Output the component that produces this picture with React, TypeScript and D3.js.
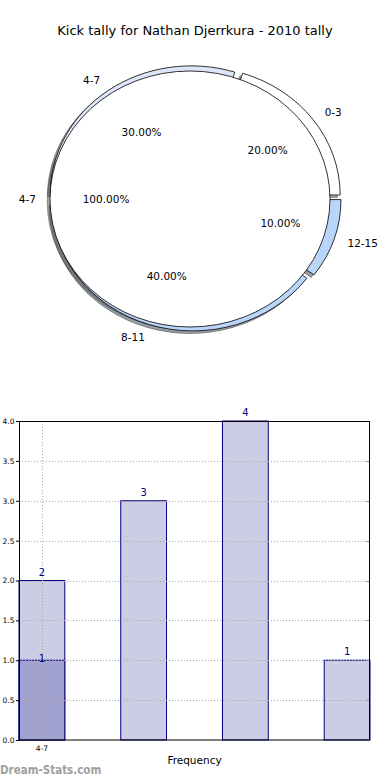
import { useEffect, useRef } from "react";
import * as d3 from "d3";

const TITLE = "Kick tally for Nathan Djerrkura - 2010 tally";

// outer ring: games per kick range
const ringLabels = ["0-3", "4-7", "8-11", "12-15"];
const ringValues = [2, 3, 4, 1];
const ringColors = ["#ffffff", "#dce6f8", "#bad5fa", "#bad5fa"];

// inner pie
const coreLabels = ["4-7"];
const coreValues = [1];
const coreColors = ["#ffffff"];

// frequency bars
const barValues = [2, 3, 4, 1];
const overlayValues = [1];
const xTickLabels = ["4-7"];
const yTicks = [0, 0.5, 1, 1.5, 2, 2.5, 3, 3.5, 4];

const FONT = "DejaVu Sans, Verdana, sans-serif";

type PieOpts = { cx: number; cy: number; rx: number; ry: number; explode: number };

const shadowOf = (c: string) => {
    const k = d3.rgb(c);
    return `rgba(${Math.round(k.r * 0.3)},${Math.round(k.g * 0.3)},${Math.round(k.b * 0.3)},0.5)`;
};

const App = () => {
    const svgRef = useRef<SVGSVGElement>(null);

    useEffect(() => {
        const svg = d3.select(svgRef.current);
        svg.selectAll("*").remove();

        svg.append("rect").attr("width", 390).attr("height", 780).attr("fill", "#fff");

        svg.append("text")
            .attr("x", 195).attr("y", 30)
            .attr("text-anchor", "middle").attr("dominant-baseline", "central")
            .attr("font-family", FONT).attr("font-size", 13)
            .text(TITLE);

        // ---------- pies ----------
        const pie = d3.pie<number>().sort(null)
            .startAngle(Math.PI / 2)
            .endAngle(Math.PI / 2 - 2 * Math.PI);
        const arc = d3.arc<d3.PieArcDatum<number>>().innerRadius(0).outerRadius(1);

        const outer: PieOpts = { cx: 194.6, cy: 198, rx: 141, ry: 128, explode: 0.04 };
        const inner: PieOpts = { cx: 190, cy: 199, rx: 140, ry: 128, explode: 0 };

        const ringArcs = pie(ringValues);
        const coreArcs = pie(coreValues);

        const offset = (d: d3.PieArcDatum<number>, o: PieOpts) => {
            const mid = (d.startAngle + d.endAngle) / 2;
            return [o.explode * Math.sin(mid) * o.rx, -o.explode * Math.cos(mid) * o.ry];
        };

        // shadows sit under every wedge
        const drawShadows = (arcs: d3.PieArcDatum<number>[], colors: string[], o: PieOpts) => {
            arcs.forEach((d, i) => {
                const [dx, dy] = offset(d, o);
                svg.append("path")
                    .attr("d", arc(d))
                    .attr("transform", `translate(${o.cx + dx - 0.02 * o.rx},${o.cy + dy + 0.02 * o.ry}) scale(${o.rx},${o.ry})`)
                    .attr("fill", shadowOf(colors[i]))
                    .attr("stroke", shadowOf(colors[i]))
                    .attr("stroke-width", 1)
                    .attr("vector-effect", "non-scaling-stroke");
            });
        };

        const drawWedges = (arcs: d3.PieArcDatum<number>[], colors: string[], o: PieOpts) => {
            arcs.forEach((d, i) => {
                const [dx, dy] = offset(d, o);
                svg.append("path")
                    .attr("d", arc(d))
                    .attr("transform", `translate(${o.cx + dx},${o.cy + dy}) scale(${o.rx},${o.ry})`)
                    .attr("fill", colors[i])
                    .attr("stroke", "#000")
                    .attr("stroke-width", 0.8)
                    .attr("vector-effect", "non-scaling-stroke");
            });
        };

        const drawLabels = (arcs: d3.PieArcDatum<number>[], labels: string[], o: PieOpts) => {
            const total = d3.sum(arcs, d => d.value);
            arcs.forEach((d, i) => {
                const [dx, dy] = offset(d, o);
                const mid = (d.startAngle + d.endAngle) / 2;
                const sx = Math.sin(mid), cy = -Math.cos(mid);
                svg.append("text")
                    .attr("x", o.cx + dx + 1.1 * sx * o.rx)
                    .attr("y", o.cy + dy + 1.1 * cy * o.ry)
                    .attr("text-anchor", sx > 0 ? "start" : "end")
                    .attr("dominant-baseline", "central")
                    .attr("font-family", FONT).attr("font-size", 10.5)
                    .text(labels[i]);
                svg.append("text")
                    .attr("x", o.cx + dx + 0.6 * sx * o.rx)
                    .attr("y", o.cy + dy + 0.6 * cy * o.ry)
                    .attr("text-anchor", "middle")
                    .attr("dominant-baseline", "central")
                    .attr("font-family", FONT).attr("font-size", 10.5)
                    .text(`${((d.value / total) * 100).toFixed(2)}%`);
            });
        };

        drawShadows(ringArcs, ringColors, outer);
        drawShadows(coreArcs, coreColors, inner);
        drawWedges(ringArcs, ringColors, outer);
        drawWedges(coreArcs, coreColors, inner);
        drawLabels(ringArcs, ringLabels, outer);
        drawLabels(coreArcs, coreLabels, inner);

        // ---------- bars ----------
        const barW = 0.45;
        const x = d3.scaleLinear().domain([0, barValues.length - 1 + barW]).range([19, 370]);
        const y = d3.scaleLinear().domain([0, 4]).range([740, 421]);
        const navy = "#000080";

        const bars = svg.append("g");
        bars.selectAll("rect.main")
            .data(barValues)
            .join("rect")
            .attr("class", "main")
            .attr("x", (_, i) => x(i))
            .attr("y", v => y(v))
            .attr("width", x(barW) - x(0))
            .attr("height", v => y(0) - y(v))
            .attr("fill", "#ccccE4")
            .attr("stroke", navy)
            .attr("stroke-width", 1);

        bars.selectAll("rect.over")
            .data(overlayValues)
            .join("rect")
            .attr("class", "over")
            .attr("x", (_, i) => x(i))
            .attr("y", v => y(v))
            .attr("width", x(barW) - x(0))
            .attr("height", v => y(0) - y(v))
            .attr("fill", "#a2a2d0")
            .attr("stroke", navy)
            .attr("stroke-width", 1);

        // dotted grid over the bars
        const grid = svg.append("g")
            .attr("stroke", "#a8a8a8").attr("stroke-dasharray", "1,2").attr("stroke-width", 1);
        grid.selectAll("line.h")
            .data(yTicks.slice(1, -1))
            .join("line")
            .attr("class", "h")
            .attr("x1", x.range()[0]).attr("x2", x.range()[1])
            .attr("y1", v => Math.round(y(v)) + 0.5).attr("y2", v => Math.round(y(v)) + 0.5);
        grid.selectAll("line.v")
            .data(xTickLabels)
            .join("line")
            .attr("class", "v")
            .attr("x1", (_, i) => Math.round(x(i + barW / 2)) + 0.5)
            .attr("x2", (_, i) => Math.round(x(i + barW / 2)) + 0.5)
            .attr("y1", y(4)).attr("y2", y(0));

        // value labels
        svg.append("g").selectAll("text")
            .data(barValues)
            .join("text")
            .attr("x", (_, i) => x(i + barW / 2))
            .attr("y", v => y(v) - 5)
            .attr("text-anchor", "middle")
            .attr("font-family", FONT).attr("font-size", 10)
            .attr("fill", navy)
            .text(v => v);
        svg.append("g").selectAll("text")
            .data(overlayValues)
            .join("text")
            .attr("x", (_, i) => x(i + barW / 2))
            .attr("y", v => y(v) + 1.5)
            .attr("text-anchor", "middle")
            .attr("font-family", FONT).attr("font-size", 10)
            .attr("fill", navy)
            .text(v => v);

        // right side inner ticks
        svg.append("g").selectAll("line")
            .data(yTicks)
            .join("line")
            .attr("x1", 366).attr("x2", 370)
            .attr("y1", v => Math.round(y(v)) + 0.5).attr("y2", v => Math.round(y(v)) + 0.5)
            .attr("stroke", "#999");

        // y axis
        const yAxis = d3.axisLeft(y).tickValues(yTicks).tickFormat(d3.format(".1f")).tickSize(3).tickPadding(1.5);
        const ya = svg.append("g").attr("transform", "translate(19,0)").call(yAxis);
        ya.select(".domain").remove();
        ya.selectAll("text").attr("font-family", FONT).attr("font-size", 7.5).attr("fill", "#000");
        ya.selectAll("line").attr("stroke", "#000");

        // x axis
        const xa = svg.append("g").attr("transform", "translate(0,740)");
        xa.selectAll("text")
            .data(xTickLabels)
            .join("text")
            .attr("x", (_, i) => x(i + barW / 2))
            .attr("y", 11)
            .attr("text-anchor", "middle")
            .attr("font-family", FONT).attr("font-size", 7.5)
            .text(d => d);

        // frame
        svg.append("rect")
            .attr("x", 19.5).attr("y", 421.5)
            .attr("width", 350).attr("height", 318.5)
            .attr("fill", "none").attr("stroke", "#000").attr("stroke-width", 1);

        svg.append("text")
            .attr("x", (x.range()[0] + x.range()[1]) / 2).attr("y", 760)
            .attr("text-anchor", "middle").attr("dominant-baseline", "central")
            .attr("font-family", FONT).attr("font-size", 10.5)
            .text("Frequency");

        svg.append("text")
            .attr("x", 0).attr("y", 774)
            .attr("font-family", "DejaVu Sans Condensed, DejaVu Sans, sans-serif")
            .attr("font-weight", "bold").attr("font-size", 11.5)
            .attr("fill", "#a0a0a0")
            .text("Dream-Stats.com");
    }, []);

    return (
        <svg
            ref={svgRef}
            width={390}
            height={780}
            style={{ position: "absolute", left: 0, top: 0, display: "block" }}
        />
    );
};

export default App;
